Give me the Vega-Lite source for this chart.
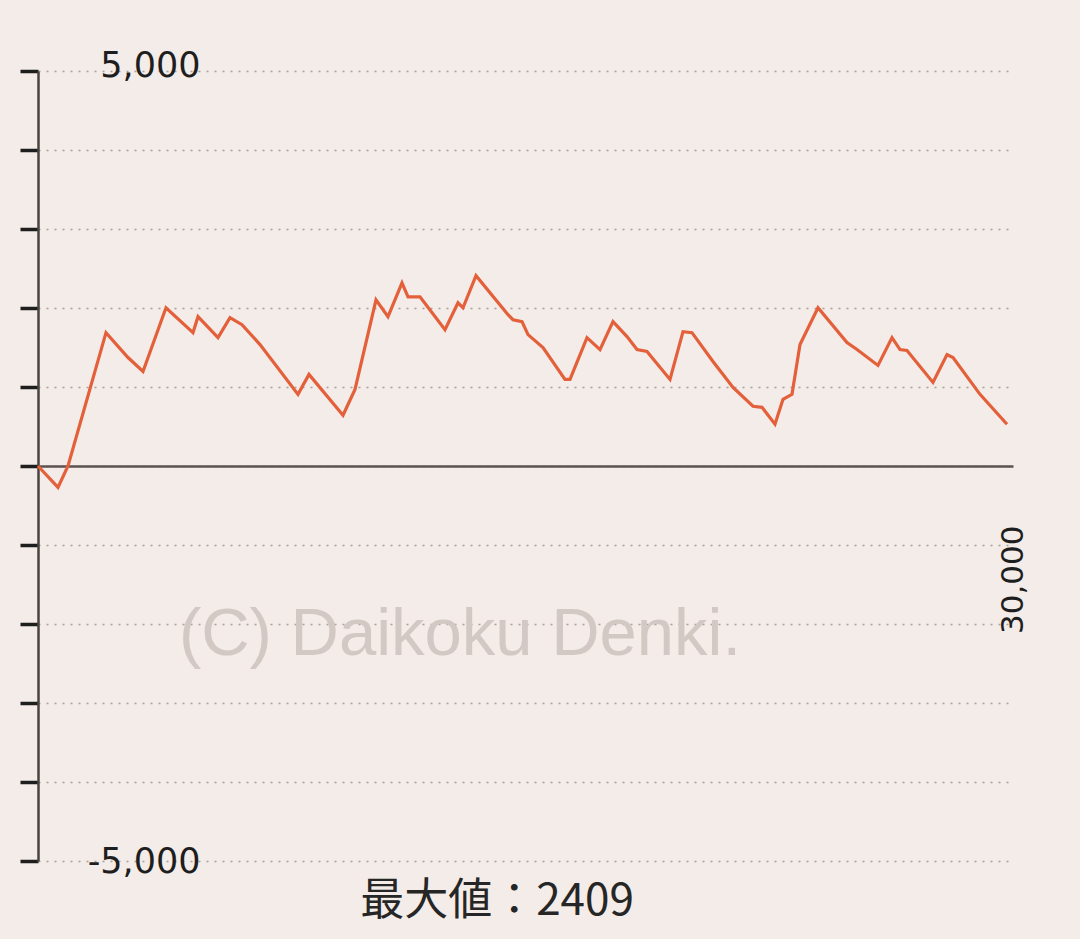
{
  "$schema": "https://vega.github.io/schema/vega-lite/v6.json",
  "autosize": "none",
  "width": 975,
  "height": 790,
  "padding": {"left": 38, "top": 71, "right": 67, "bottom": 78},
  "background": "#f4ece8",
  "config": {"view": {"stroke": null}},
  "datasets": {
    "series": [
      {"games": 0, "diff": 0},
      {"games": 615, "diff": -270},
      {"games": 923, "diff": 0},
      {"games": 2092, "diff": 1688},
      {"games": 2769, "diff": 1373},
      {"games": 3231, "diff": 1197},
      {"games": 3938, "diff": 2003},
      {"games": 4769, "diff": 1688},
      {"games": 4923, "diff": 1890},
      {"games": 5538, "diff": 1625},
      {"games": 5908, "diff": 1877},
      {"games": 6277, "diff": 1789},
      {"games": 6831, "diff": 1537},
      {"games": 8000, "diff": 907},
      {"games": 8338, "diff": 1159},
      {"games": 9385, "diff": 643},
      {"games": 9754, "diff": 970},
      {"games": 10400, "diff": 2104},
      {"games": 10769, "diff": 1890},
      {"games": 11200, "diff": 2318},
      {"games": 11385, "diff": 2142},
      {"games": 11754, "diff": 2142},
      {"games": 12523, "diff": 1726},
      {"games": 12923, "diff": 2066},
      {"games": 13077, "diff": 2003},
      {"games": 13477, "diff": 2409},
      {"games": 14462, "diff": 1915},
      {"games": 14615, "diff": 1852},
      {"games": 14892, "diff": 1827},
      {"games": 15077, "diff": 1663},
      {"games": 15538, "diff": 1499},
      {"games": 16215, "diff": 1096},
      {"games": 16369, "diff": 1096},
      {"games": 16892, "diff": 1625},
      {"games": 17292, "diff": 1474},
      {"games": 17692, "diff": 1827},
      {"games": 18123, "diff": 1638},
      {"games": 18431, "diff": 1474},
      {"games": 18738, "diff": 1449},
      {"games": 19446, "diff": 1096},
      {"games": 19846, "diff": 1701},
      {"games": 20123, "diff": 1688},
      {"games": 20769, "diff": 1323},
      {"games": 21385, "diff": 995},
      {"games": 22000, "diff": 756},
      {"games": 22277, "diff": 743},
      {"games": 22677, "diff": 529},
      {"games": 22923, "diff": 844},
      {"games": 23200, "diff": 907},
      {"games": 23446, "diff": 1537},
      {"games": 24000, "diff": 2003},
      {"games": 24892, "diff": 1562},
      {"games": 25200, "diff": 1474},
      {"games": 25846, "diff": 1273},
      {"games": 26277, "diff": 1625},
      {"games": 26523, "diff": 1474},
      {"games": 26738, "diff": 1462},
      {"games": 27538, "diff": 1058},
      {"games": 27969, "diff": 1411},
      {"games": 28154, "diff": 1373},
      {"games": 28985, "diff": 907},
      {"games": 29815, "diff": 529}
    ],
    "notes": [
      {"kind": "watermark", "label": "(C) Daikoku Denki."},
      {"kind": "max", "label": "最大値：2409"}
    ]
  },
  "layer": [
    {
      "data": {"name": "series"},
      "mark": {"type": "line", "color": "#e3603a", "strokeWidth": 3.2, "strokeJoin": "miter", "clip": false},
      "encoding": {
        "x": {
          "field": "games", "type": "quantitative",
          "scale": {"domain": [0, 30000], "nice": false, "zero": false},
          "axis": {
            "title": null, "orient": "bottom", "offset": -395,
            "values": [30000], "grid": false, "ticks": false, "tickSize": 0,
            "domainColor": "#5a5350", "domainWidth": 2.5,
            "labelAngle": 270, "labelPadding": 59, "labelFlush": false,
            "labelFont": "DejaVu Sans", "labelFontSize": 31, "labelColor": "#1e1e1e"
          }
        },
        "y": {
          "field": "diff", "type": "quantitative",
          "scale": {"domain": [-5000, 5000], "nice": false},
          "axis": {
            "title": null,
            "values": [-5000, -4000, -3000, -2000, -1000, 0, 1000, 2000, 3000, 4000, 5000],
            "labelExpr": "datum.value == 5000 ? '5,000' : (datum.value == -5000 ? '-5,000' : '')",
            "domainColor": "#4a4441", "domainWidth": 2.5,
            "tickColor": "#1e1e1e", "tickSize": 18, "tickWidth": 3.5,
            "grid": true, "gridColor": "#9a918c", "gridDash": [2, 6], "gridWidth": 1.6, "gridOpacity": 0.85,
            "labelPadding": -180, "labelAlign": "right", "labelBaseline": "middle",
            "labelOffset": {"condition": {"test": "datum.value == 5000", "value": -6}, "value": 0},
            "labelFont": "DejaVu Sans", "labelFontSize": 35, "labelColor": "#1e1e1e"
          }
        }
      }
    },
    {
      "data": {"name": "notes"},
      "transform": [{"filter": "datum.kind == 'watermark'"}],
      "mark": {"type": "text", "font": "Liberation Sans", "fontSize": 67, "color": "#d2c9c5", "align": "center", "baseline": "middle"},
      "encoding": {
        "x": {"datum": 12985},
        "y": {"datum": -2133},
        "text": {"field": "label"}
      }
    },
    {
      "data": {"name": "notes"},
      "transform": [{"filter": "datum.kind == 'max'"}],
      "mark": {"type": "text", "font": "Noto Sans CJK JP", "fontSize": 44, "color": "#262626", "align": "center", "baseline": "middle"},
      "encoding": {
        "x": {"datum": 14123},
        "y": {"datum": -5520},
        "text": {"field": "label"}
      }
    }
  ]
}
